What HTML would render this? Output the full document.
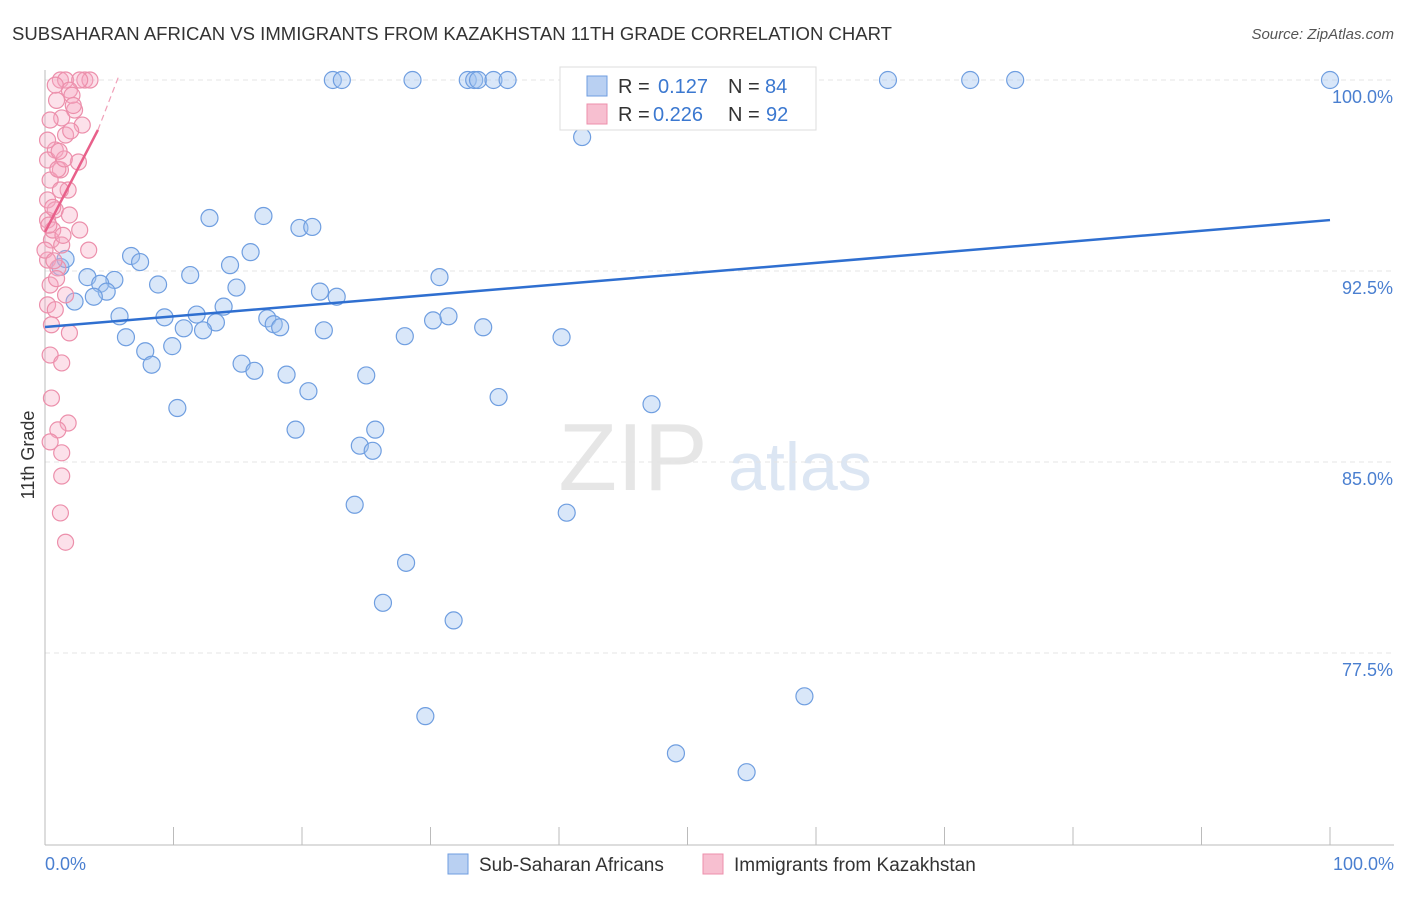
<!DOCTYPE html>
<html><head><meta charset="utf-8"><style>
body{margin:0;background:#fff;font-family:"Liberation Sans",sans-serif}
svg text{font-family:"Liberation Sans",sans-serif}
</style></head><body>
<svg id="c" width="1406" height="892">
<text x="12" y="40" font-size="18" fill="#333" textLength="880" lengthAdjust="spacingAndGlyphs">SUBSAHARAN AFRICAN VS IMMIGRANTS FROM KAZAKHSTAN 11TH GRADE CORRELATION CHART</text>
<text x="1394" y="39" font-size="15" fill="#555" font-style="italic" text-anchor="end">Source: ZipAtlas.com</text>
<text x="633" y="490" font-size="96" fill="#e6e6e6" font-family="Liberation Serif" text-anchor="middle">ZIP</text>
<text x="800" y="490" font-size="68" fill="#dce6f3" text-anchor="middle">atlas</text>
<g id="grid"></g><g id="axes"></g><g id="pts"></g><g id="trend"></g>
<text x="34" y="455" font-size="18" fill="#333" text-anchor="middle" transform="rotate(-90 34 455)">11th Grade</text>
<text x="45" y="870" font-size="18" fill="#4a7fd0">0.0%</text>
<text x="1394" y="870" font-size="18" fill="#4a7fd0" text-anchor="end">100.0%</text>
<g>
<rect x="560" y="67" width="256" height="63" fill="#fff" stroke="#ddd"/>
<rect x="587" y="76" width="20" height="20" fill="#b9d0f2" stroke="#6f9ee0"/>
<rect x="587" y="104" width="20" height="20" fill="#f7bfd0" stroke="#ec8fab"/>
<text x="618" y="93" font-size="20" fill="#333">R =</text>
<text x="658" y="93" font-size="20" fill="#3b78d0">0.127</text>
<text x="728" y="93" font-size="20" fill="#333">N =</text>
<text x="765" y="93" font-size="20" fill="#3b78d0">84</text>
<text x="618" y="121" font-size="20" fill="#333">R =</text>
<text x="653" y="121" font-size="20" fill="#3b78d0">0.226</text>
<text x="728" y="121" font-size="20" fill="#333">N =</text>
<text x="766" y="121" font-size="20" fill="#3b78d0">92</text>
</g>
<g>
<rect x="448" y="854" width="20" height="20" fill="#b9d0f2" stroke="#6f9ee0"/>
<text x="479" y="871" font-size="19" fill="#333">Sub-Saharan Africans</text>
<rect x="703" y="854" width="20" height="20" fill="#f7bfd0" stroke="#ec8fab"/>
<text x="734" y="871" font-size="19" fill="#333">Immigrants from Kazakhstan</text>
</g>
</svg>
<script>
const yTicks=[100,92.5,85,77.5];
const yTickLabels=["100.0%","92.5%","85.0%","77.5%"];
const xTicks=[0,10,20,30,40,50,60,70,80,90,100];
const blueX=[22.4,23.1,28.6,32.9,33.4,33.7,34.9,36.0,42.4,46.1,52.4,65.6,72.0,75.5,100,41.8,55.6,12.8,17.0,19.8,20.8,16.0,6.7,7.4,14.4,11.3,3.3,5.4,8.8,14.9,4.3,4.8,21.4,22.7,30.7,1.2,1.6,2.3,3.8,13.9,5.8,9.3,11.8,13.3,17.3,17.8,18.3,10.8,12.3,21.7,30.2,31.4,34.1,6.3,7.8,9.9,28.0,40.2,8.3,15.3,16.3,18.8,25.0,20.5,35.3,47.2,10.3,19.5,25.7,24.5,25.5,24.1,40.6,28.1,26.3,31.8,59.1,29.6,49.1,54.6];
const blueY=[100,100,100,100,100,100,100,100,100,100,100,100,100,100,100,97.76,99.0,94.58,94.66,94.19,94.23,93.24,93.09,92.85,92.73,92.34,92.26,92.15,91.97,91.85,92.0,91.69,91.69,91.49,92.26,92.66,92.97,91.3,91.49,91.1,90.72,90.68,90.79,90.48,90.64,90.41,90.29,90.25,90.17,90.17,90.56,90.72,90.29,89.9,89.35,89.55,89.94,89.9,88.82,88.86,88.58,88.43,88.4,87.78,87.55,87.27,87.12,86.27,86.27,85.64,85.44,83.32,83.01,81.04,79.47,78.78,75.8,75.02,73.56,72.82];
const pinkX=[1.2,1.6,3.1,3.5,2.7,1.9,0.9,2.3,1.3,0.4,2.9,1.6,0.8,0.2,2.6,1.2,0.4,1.8,0.2,0.8,1.9,0.2,2.7,0.5,1.3,3.4,0.2,1.0,0.4,1.6,0.2,0.8,0.5,1.9,0.4,1.3,0.5,1.8,1.0,0.4,1.3,1.3,1.2,1.6,0.8,2.1,0.2,1.2,0.6,0.0,2.0,1.0,0.6,1.4,0.9,0.3,1.5,2.2,0.7,1.1];
const pinkY=[100,100,100,100,100,99.6,99.2,98.82,98.51,98.43,98.23,97.84,97.25,96.86,96.78,96.47,96.07,95.68,95.29,94.9,94.7,94.5,94.11,93.72,93.52,93.32,92.93,92.62,91.95,91.56,91.17,90.98,90.39,90.07,89.2,88.89,87.51,86.53,86.26,85.79,85.36,84.45,83.0,81.85,99.8,99.4,97.64,95.68,94.11,93.32,98.0,96.5,95.0,93.9,92.2,94.3,96.9,99.0,92.9,97.2];
const blueTrend=[[0,90.30],[100,94.50]];
const pinkTrend=[[0,94.03],[4.12,98.04]];
const pinkDash=[[4.12,98.04],[5.7,100.1]];
const X=v=>45+v*12.85, Y=v=>80+(100-v)/7.5*191;
const NS="http://www.w3.org/2000/svg";
function mk(p,t,a){const e=document.createElementNS(NS,t);for(const k in a)e.setAttribute(k,a[k]);document.getElementById(p).appendChild(e);return e;}
yTicks.forEach((v,i)=>{
 const l=mk('grid','line',{x1:45,x2:1394,y1:Y(v),y2:Y(v),stroke:'#e4e4e4','stroke-dasharray':'5,4'});
 
 
 const t=mk('grid','text',{x:1393,y:Y(v)+23,'font-size':18,fill:'#4a7fd0','text-anchor':'end'});
 t.textContent=yTickLabels[i];
 
 
});
const ax=mk('axes','line',{x1:45,x2:1394,y1:845,y2:845,stroke:'#bbb'});


const ay=mk('axes','line',{x1:45,x2:45,y1:70,y2:845,stroke:'#bbb'});


xTicks.forEach(v=>{const t=mk('axes','line',{x1:X(v),x2:X(v),y1:827,y2:845,stroke:'#bbb'});
 
 });
blueX.forEach((v,i)=>{const c=mk('pts','circle',{cx:X(v),cy:Y(blueY[i]),r:8.5,fill:'rgba(160,195,240,0.4)',stroke:'#6f9ee0','stroke-width':1.2});
 
 });
pinkX.forEach((v,i)=>{const c=mk('pts','circle',{cx:X(v),cy:Y(pinkY[i]),r:8,fill:'rgba(245,170,195,0.35)',stroke:'#ec8fab','stroke-width':1.2});
 
 });
const b=mk('trend','line',{x1:X(blueTrend[0][0]),y1:Y(blueTrend[0][1]),x2:X(blueTrend[1][0]),y2:Y(blueTrend[1][1]),stroke:'#2f6fd0','stroke-width':2.5});


const p=mk('trend','line',{x1:X(pinkTrend[0][0]),y1:Y(pinkTrend[0][1]),x2:X(pinkTrend[1][0]),y2:Y(pinkTrend[1][1]),stroke:'#e8608a','stroke-width':2.5});


const pd=mk('trend','line',{x1:X(pinkDash[0][0]),y1:Y(pinkDash[0][1]),x2:X(pinkDash[1][0]),y2:Y(pinkDash[1][1]),stroke:'#f0a0b8','stroke-width':1.2,'stroke-dasharray':'6,4'});


</script>
</body></html>
